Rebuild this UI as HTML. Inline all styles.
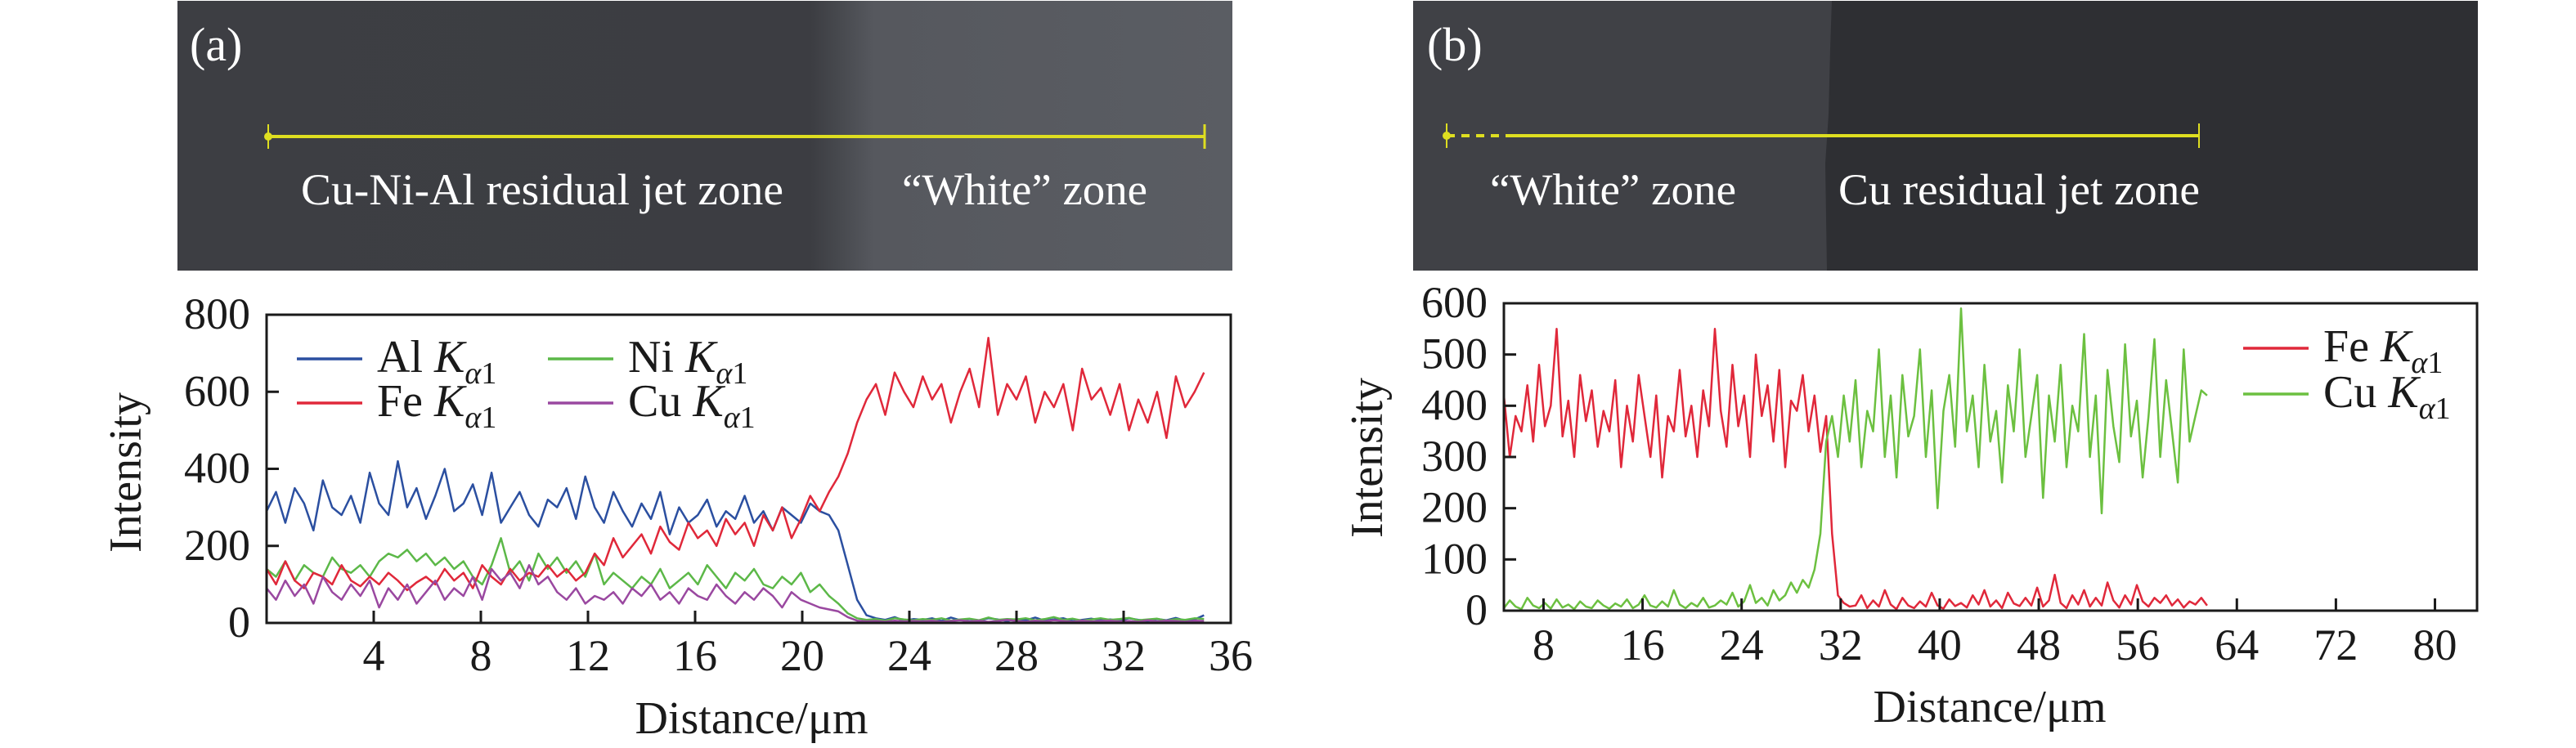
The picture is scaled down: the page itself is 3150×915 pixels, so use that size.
<!DOCTYPE html>
<html><head><meta charset="utf-8"><style>
html,body{margin:0;padding:0;background:#fff;}
svg{display:block;font-family:"Liberation Serif",serif;}
</style></head><body>
<svg id="fig" width="3150" height="915" viewBox="0 0 3150 915" xmlns="http://www.w3.org/2000/svg">
<defs>
<linearGradient id="gA" x1="0" x2="1" y1="0" y2="0">
<stop offset="0" stop-color="#3d3e43"/><stop offset="0.6" stop-color="#3c3d42"/><stop offset="0.625" stop-color="#46484d"/><stop offset="0.66" stop-color="#56585e"/><stop offset="1" stop-color="#5a5d63"/>
</linearGradient>
</defs>
<g>
<rect x="217" y="1" width="1290" height="330" fill="url(#gA)"/>
<text x="232" y="74" font-size="58" fill="#fff">(a)</text>
<line x1="328" y1="167" x2="1473" y2="167" stroke="#dede20" stroke-width="4"/>
<line x1="328" y1="152" x2="328" y2="182" stroke="#dede20" stroke-width="2"/>
<line x1="1473" y1="152" x2="1473" y2="182" stroke="#dede20" stroke-width="3"/>
<circle cx="328" cy="167" r="5" fill="#dede20"/>
<text x="368" y="250" font-size="54" fill="#fff" textLength="590" lengthAdjust="spacingAndGlyphs">Cu-Ni-Al residual jet zone</text>
<text x="1103" y="250" font-size="54" fill="#fff" textLength="300" lengthAdjust="spacingAndGlyphs">“White” zone</text>
</g>
<g>
<rect x="1728" y="1" width="1302" height="330" fill="#2e2f33"/>
<path d="M1728 1 L2240 1 L2238 60 L2236 140 L2232 200 L2234 331 L1728 331 Z" fill="#404146"/>
<text x="1745" y="74" font-size="58" fill="#fff">(b)</text>
<line x1="1769" y1="166" x2="1841" y2="166" stroke="#dede20" stroke-width="4" stroke-dasharray="10,8"/>
<line x1="1841" y1="166" x2="2689" y2="166" stroke="#dede20" stroke-width="4"/>
<line x1="1769" y1="151" x2="1769" y2="181" stroke="#dede20" stroke-width="2"/>
<line x1="2689" y1="151" x2="2689" y2="181" stroke="#dede20" stroke-width="2"/>
<circle cx="1769" cy="166" r="5" fill="#dede20"/>
<text x="1822" y="250" font-size="54" fill="#fff" textLength="301" lengthAdjust="spacingAndGlyphs">“White” zone</text>
<text x="2248" y="250" font-size="54" fill="#fff" textLength="442" lengthAdjust="spacingAndGlyphs">Cu residual jet zone</text>
</g>
<g id="chartA"></g>
<g id="chartB"></g>
</svg>
<script>
// ---- Chart (a) data ----
const aXDomain = [0, 36];
const aYDomain = [0, 800];
const aXTicks = [4, 8, 12, 16, 20, 24, 28, 32, 36];
const aYTicks = [0, 200, 400, 600, 800];
const aSeriesRange = [0, 35];
const aAl = [290,340,260,350,310,240,370,300,280,330,
260,390,310,280,420,300,350,270,330,400,
290,310,360,280,390,260,300,340,280,250,
320,300,350,270,380,300,260,340,290,250,
310,270,340,230,300,260,280,320,250,290,
270,330,260,290,240,300,280,260,310,290,
280,240,150,60,20,12,8,15,6,10,
8,12,5,14,7,10,6,12,9,5,
10,7,14,6,9,12,5,8,11,7,
9,6,12,8,5,10,7,13,6,9,20];
const aFe = [140,100,160,110,90,130,120,100,150,110,
95,120,100,130,110,85,105,120,100,140,
110,130,90,150,120,100,140,110,130,120,
150,120,140,110,130,180,150,220,170,200,
230,180,250,210,190,260,220,240,200,270,
230,260,200,280,240,300,220,270,330,290,
340,380,440,520,580,620,540,650,600,560,
640,580,620,520,600,660,560,740,540,620,
580,640,520,600,560,620,500,660,580,610,
540,620,500,580,520,600,480,640,560,600,650];
const aNi = [140,120,160,110,150,130,120,170,140,130,
150,120,160,180,170,190,160,180,150,170,
140,160,120,100,150,220,130,160,110,180,
140,170,130,160,120,180,100,130,110,90,
120,100,140,90,110,130,100,150,120,90,
130,110,140,100,90,120,100,130,80,100,
70,50,25,12,8,10,6,12,9,7,
10,8,12,6,9,11,7,14,8,10,
9,12,7,10,15,8,11,6,9,12,
8,10,13,7,9,11,6,10,8,12,10];
const aCu = [90,60,110,70,100,50,120,80,60,100,
70,110,40,90,60,100,50,80,110,60,
90,70,120,60,140,110,130,90,150,100,
120,80,60,90,50,70,60,80,50,90,
70,100,60,80,50,90,70,60,100,70,
50,80,60,90,70,40,80,60,50,40,
35,30,15,6,4,5,3,6,4,5,
4,6,3,5,7,4,6,3,5,8,
5,3,6,4,7,5,3,6,4,5,
6,4,5,3,7,4,6,5,3,6,5];
// ---- Chart (b) data ----
const bXDomain = [4.8, 83.4];
const bYDomain = [0, 600];
const bXTicks = [8, 16, 24, 32, 40, 48, 56, 64, 72, 80];
const bYTicks = [0, 100, 200, 300, 400, 500, 600];
const bSeriesRange = [4.8, 61.6];
const bFe = [420,300,380,350,440,330,480,360,400,550,
340,410,300,460,370,430,320,390,350,450,
280,400,330,460,380,300,420,260,380,350,
470,340,400,300,430,360,550,390,320,480,
360,420,300,500,380,440,330,470,280,410,
390,460,350,420,310,380,150,30,15,8,
10,30,5,20,8,40,12,3,25,10,
5,18,8,35,10,4,22,9,15,6,
30,12,40,8,20,5,35,14,9,25,
10,45,8,20,70,15,5,30,12,40,
8,25,10,55,20,6,30,12,50,18,
8,25,15,30,10,22,6,18,12,25,10];
const bCu = [5,20,8,3,25,10,5,15,4,22,
6,12,3,18,8,5,20,10,4,14,
8,22,5,12,30,10,6,18,8,40,
12,5,15,8,25,6,10,20,12,35,
8,18,50,15,25,10,40,20,30,55,
35,60,45,80,150,330,380,300,420,330,
450,280,390,350,510,300,420,260,460,340,
380,510,300,430,200,390,460,320,590,350,
420,280,480,330,390,250,440,350,510,300,
380,460,220,420,330,480,280,400,350,540,
300,420,190,470,360,290,520,340,410,260,
380,530,300,450,350,250,510,330,380,430,420];

const NS = "http://www.w3.org/2000/svg";
function mk(tag, attrs, parent){ const e=document.createElementNS(NS,tag); for(const k in attrs) e.setAttribute(k,attrs[k]); parent.appendChild(e); return e; }
function scale(d, r){ return v => r[0] + (v-d[0])*(r[1]-r[0])/(d[1]-d[0]); }

function drawChart(g, box, xd, yd, xt, yt, series, range){
  const sx = scale(xd,[box.x0,box.x1]);
  const sy = scale(yd,[box.y1,box.y0]);
  series.forEach(s=>{
    const n=s.vals.length;
    const pts=s.vals.map((v,i)=>{const xv=range[0]+i*(range[1]-range[0])/(n-1);return sx(xv).toFixed(1)+","+sy(v).toFixed(1);}).join(" ");
    const p=mk("polyline",{points:pts,fill:"none",stroke:s.color,"stroke-width":2.5,"stroke-linejoin":"round"},g);
    
    
  });
  const fr=mk("rect",{x:box.x0,y:box.y0,width:box.x1-box.x0,height:box.y1-box.y0,fill:"none",stroke:"#1a1a1a","stroke-width":3},g);
  
  
  xt.forEach(t=>{
    const x=sx(t);
    if(x<box.x1-2) mk("line",{x1:x,y1:box.y1,x2:x,y2:box.y1-15,stroke:"#1a1a1a","stroke-width":3},g);
    const tx=mk("text",{x:x,y:box.xLabelY,"font-size":54,"text-anchor":"middle",fill:"#1a1a1a"},g);
    tx.textContent=t;
    
    
  });
  yt.forEach(t=>{
    const y=sy(t);
    if(y>box.y0+2 && y<box.y1-2) mk("line",{x1:box.x0,y1:y,x2:box.x0+15,y2:y,stroke:"#1a1a1a","stroke-width":3},g);
    const ty=mk("text",{x:box.x0-20,y:y+17,"font-size":54,"text-anchor":"end",fill:"#1a1a1a"},g);
    ty.textContent=t;
    
    
  });
  const xl=mk("text",{x:box.xTitleX,y:box.xTitleY,"font-size":56,"text-anchor":"middle",fill:"#1a1a1a"},g);
  xl.textContent="Distance/μm";
  
  
  const yl=mk("text",{x:0,y:0,"font-size":56,"text-anchor":"middle",fill:"#1a1a1a",transform:`translate(${box.yTitleX},${box.yTitleY}) rotate(-90)`},g);
  yl.textContent="Intensity";
  
  
}
function legend(g, x, y, color, el, name){
  const lg=mk("g",{},g);
  
  
  mk("line",{x1:x,y1:y,x2:x+80,y2:y,stroke:color,"stroke-width":3.5},lg);
  const t=mk("text",{x:x+98,y:y+16,"font-size":56,fill:"#1a1a1a"},lg);
  t.innerHTML = el+' <tspan font-style="italic">K</tspan><tspan font-size="38" dy="14"><tspan font-style="italic">α</tspan>1</tspan>';
}
const gA=document.getElementById("chartA");
drawChart(gA,{x0:326,x1:1505,y0:385,y1:762,xLabelY:820,xTitleX:919,xTitleY:897,yTitleX:172,yTitleY:578},
  aXDomain,aYDomain,aXTicks,aYTicks,
  [{vals:aAl,color:"#2b4fa0",name:"al-line"},{vals:aNi,color:"#5cb848",name:"ni-line"},{vals:aFe,color:"#e0283a",name:"fe-line"},{vals:aCu,color:"#9a48a0",name:"cu-line"}],aSeriesRange);
legend(gA,363,439,"#2b4fa0","Al","legend-al");
legend(gA,363,493,"#e0283a","Fe","legend-fe");
legend(gA,670,439,"#5cb848","Ni","legend-ni");
legend(gA,670,493,"#9a48a0","Cu","legend-cu");
const gB=document.getElementById("chartB");
drawChart(gB,{x0:1839,x1:3029,y0:371,y1:747,xLabelY:807,xTitleX:2433,xTitleY:883,yTitleX:1690,yTitleY:560},
  bXDomain,bYDomain,bXTicks,bYTicks,
  [{vals:bFe,color:"#e0283a",name:"fe-line-b"},{vals:bCu,color:"#6cc040",name:"cu-line-b"}],bSeriesRange);
legend(gB,2743,426,"#e0283a","Fe","legend-fe-b");
legend(gB,2743,482,"#6cc040","Cu","legend-cu-b");
</script>
</body></html>
